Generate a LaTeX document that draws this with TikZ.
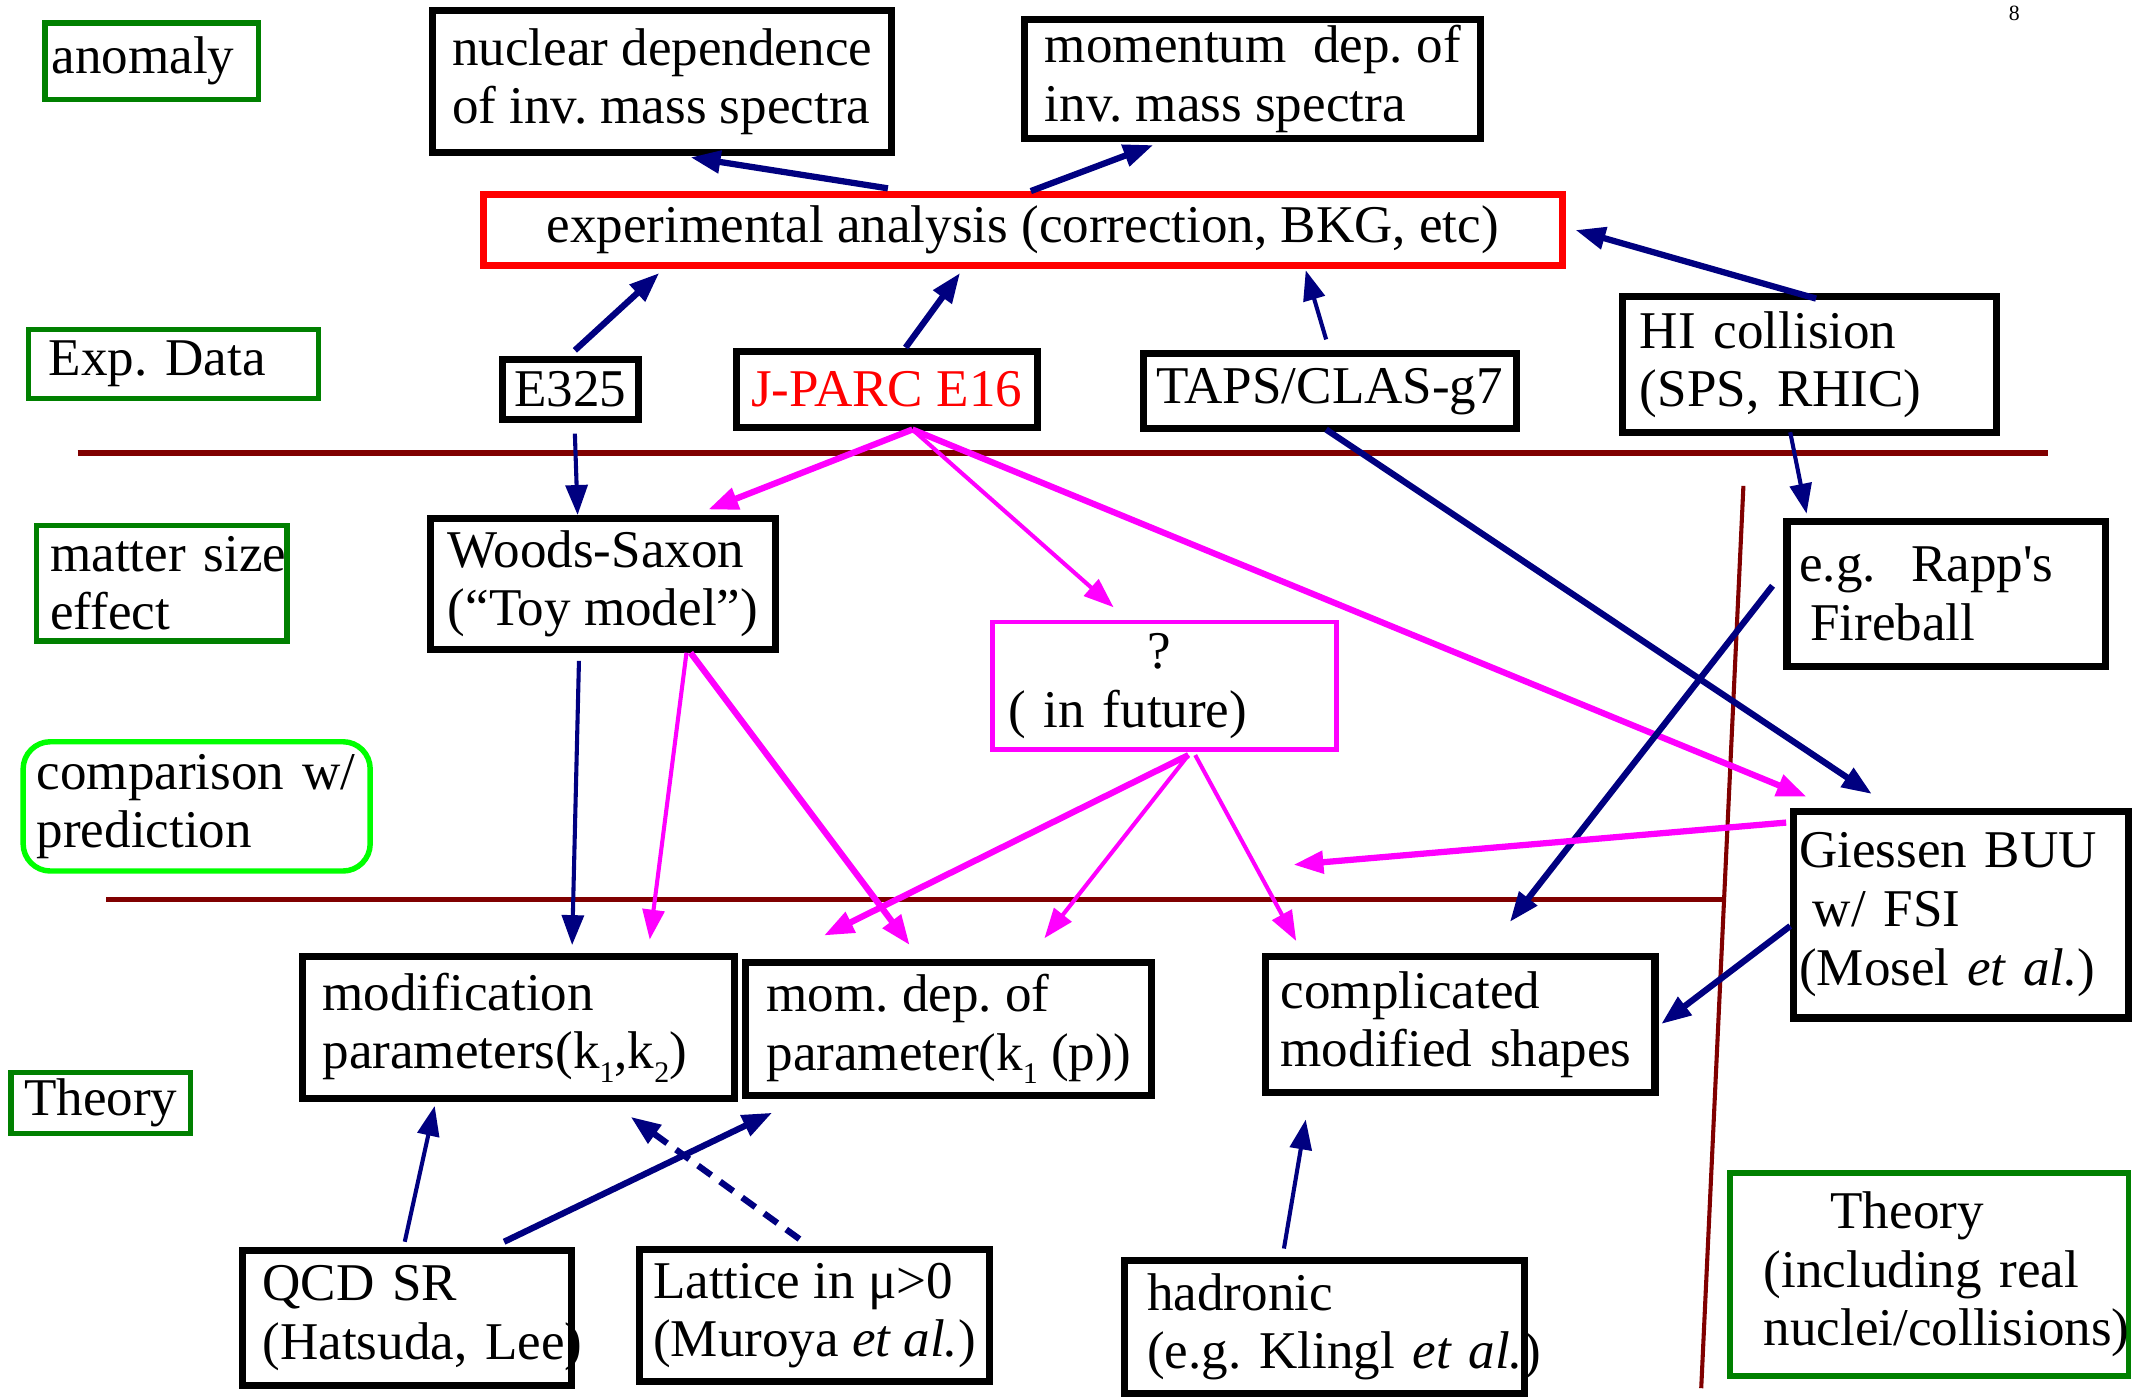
\documentclass[tikz,border=0pt]{standalone}
\usepackage{fontspec}
\setmainfont{Liberation Serif}
\usetikzlibrary{arrows.meta,calc}

\definecolor{navyarrow}{RGB}{0,0,128}
\definecolor{linkpink}{RGB}{255,0,255}
\definecolor{sepred}{RGB}{128,0,0}
\definecolor{labelgreen}{RGB}{0,128,0}
\definecolor{limegreen}{RGB}{0,255,0}

% lowered small index, as in k_1
\newcommand{\lowsub}[1]{\raisebox{-0.55ex}{\fontsize{11}{11}\selectfont #1}}
% straight apostrophe
\newcommand{\sq}{{\addfontfeatures{Ligatures=TeXOff}'}}

\begin{document}
\frenchspacing
\begin{tikzpicture}[x=0.5pt,y=-0.5pt,
    font=\fontsize{19.5}{21.5}\selectfont,
    box/.style={draw, line width=2.6pt, inner xsep=0pt, inner ysep=2pt, align=left},
    tag/.style={draw=labelgreen, line width=2pt, inner xsep=0pt, inner ysep=2pt, align=left},
    nav/.style={draw=navyarrow, line width=2.3pt, -{Triangle[length=11pt,width=8pt]}},
    navthin/.style={nav, line width=1.5pt},
    pink/.style={draw=linkpink, line width=2.3pt, -{Triangle[length=11pt,width=8pt]}},
    pinkthin/.style={pink, line width=1.5pt},
    sep/.style={draw=sepred, line width=2pt}]
    \useasboundingbox (0,0) rectangle (1568,1027);

    % Separators
    \draw[sep] (57,333) -- (1505,333);
    \draw[sep] (78,661) -- (1265,661);
    \draw[sep, line width=1.5pt] (1281,357) -- (1250,1020);

    % Row labels (green)
    \node[tag, minimum width=78.5pt, minimum height=28pt, text width=73.5pt] (anomaly) at (111.5,45) {anomaly};
    \node[tag, minimum width=106.5pt, minimum height=25.5pt, text width=91.5pt] (expdata) at (127.5,267.5) {Exp. Data};
    \node[tag, minimum width=92pt, minimum height=42.5pt, text width=82pt] (matter) at (119,428.5) {\mbox{matter size}\\effect};
    \node[tag, draw=limegreen, rounded corners=10pt, minimum width=127.5pt, minimum height=47.5pt, text width=117.5pt] (comparison) at (144.5,592.5) {comparison w/\\prediction};
    \node[tag, minimum width=66pt, minimum height=22.5pt, align=center] (theoryL) at (74,810.5) {Theory};
    \node[tag, minimum width=146.5pt, minimum height=74.5pt, text width=121.5pt] (theoryR) at (1417.5,936.5) {\hspace*{24.5pt}Theory\\\mbox{(including real}\\\mbox{nuclei/collisions)}};

    % Page number
    \node[font=\fontsize{8}{8}\selectfont] (pagenum) at (1480,10) {8};

    % Anomaly row
    \node[box, minimum width=168.5pt, minimum height=52pt] (nucdep) at (486.5,60) {nuclear dependence\\of inv. mass spectra};
    \node[box, minimum width=167.5pt, minimum height=44pt] (momdep) at (920.5,58) {momentum\ \ dep. of\\inv. mass spectra};
    \node[box, draw=red, minimum width=396.5pt, minimum height=26pt, align=center] (expana) at (751.5,169) {experimental analysis (correction, BKG, etc)};

    % Experiments
    \node[box, minimum width=50pt, minimum height=22pt, align=center] (e325) at (419,286) {E325};
    \node[box, minimum width=110.5pt, minimum height=28pt, align=center, text=red] (jparc) at (651.5,286) {J-PARC E16};
    \node[box, minimum width=137pt, minimum height=27.5pt, align=center] (taps) at (977,287.5) {TAPS/CLAS-g7};
    \node[box, minimum width=137.5pt, minimum height=50pt, text width=124.5pt] (hi) at (1329.5,268) {HI collision\\(SPS, RHIC)};

    % Matter size / prediction
    \node[box, minimum width=127pt, minimum height=48pt] (woods) at (443,429) {Woods-Saxon\\(``Toy model'')};
    \node[box, draw=linkpink, line width=1.8pt, minimum width=126.5pt, minimum height=47pt, text width=114.5pt] (future) at (855.5,504) {\hspace*{51pt}?\\( in future)};
    \node[box, minimum width=117pt, minimum height=53.5pt, text width=108pt] (rapp) at (1430,436.5) {e.g.\ \ Rapp\sq s\\\hspace*{4pt}Fireball};
    \node[box, minimum width=123pt, minimum height=76pt, text width=119pt] (giessen) at (1441,672) {Giessen BUU\\\hspace*{5pt}w/ FSI\\(Mosel \textit{et al.})};

    % Theory row
    \node[box, minimum width=159pt, minimum height=52pt, text width=144pt] (modpar) at (381,755) {modification\\parameters(k\lowsub{1},k\lowsub{2})};
    \node[box, minimum width=149pt, minimum height=49pt] (mompar) at (697,756) {mom. dep. of\\parameter(k\lowsub{1} (p))};
    \node[box, minimum width=143pt, minimum height=50pt, text width=132pt] (compl) at (1073,753) {complicated\\modified shapes};
    \node[box, minimum width=121pt, minimum height=49.5pt, text width=106pt] (qcd) at (299,968.5) {QCD SR\\\mbox{(Hatsuda, Lee)}};
    \node[box, minimum width=128.5pt, minimum height=48.5pt] (lattice) at (598.5,966.5) {Lattice in μ>0\\(Muroya \textit{et al.})};
    \node[box, minimum width=147pt, minimum height=49pt, text width=130pt] (hadr) at (973,975) {hadronic\\\mbox{(e.g. Klingl \textit{et al.})}};

    % Analysis -> spectra
    \draw[nav] ($(expana.north west)+(300,-2)$) -- ($(nucdep.south west)+(192,1)$);
    \draw[nav] ($(expana.north west)+(405,0)$) -- ($(momdep.south west)+(97,2)$);

    % Data -> analysis
    \draw[nav] ($(e325.north west)+(56,-4)$) -- ($(expana.south west)+(132,3)$);
    \draw[nav] ($(jparc.north west)+(127,0)$) -- ($(expana.south west)+(353,3)$);
    \draw[navthin] ($(taps.north west)+(137,-8)$) -- ($(expana.south west)+(607,1)$);
    \draw[nav] ($(hi.north west)+(145,4)$) -- ($(expana.east)+(7,0)$);

    % Data -> models
    \draw[navthin] ($(e325.south west)+(56,8)$) -- ($(woods.north west)+(111,0)$);
    \draw[pink] ($(jparc.south west)+(132,-1)$) -- ($(woods.north west)+(207,-4)$);
    \draw[pinkthin] ($(jparc.south west)+(132,-1)$) -- ($(future.north west)+(91,-9)$);
    \draw[pink] ($(jparc.south west)+(132,-1)$) -- ($(giessen.north west)+(12,-8)$);
    \draw[nav] ($(taps.south west)+(137,-2)$) -- ($(giessen.north west)+(60,-10)$);
    \draw[navthin] ($(hi.south west)+(126,-3)$) -- ($(rapp.north west)+(17,-3)$);

    % Models -> theory
    \draw[navthin] ($(woods.south west)+(112,6)$) -- ($(modpar.north west)+(201,-6)$);
    \draw[pinkthin] ($(woods.south west)+(191,0)$) -- ($(modpar.north west)+(258,-10)$);
    \draw[pink] ($(woods.south west)+(194,0)$) -- ($(mompar.north west)+(123,-10)$);
    \draw[pink] ($(future.south west)+(146,2)$) -- ($(mompar.north west)+(60,-17)$);
    \draw[pinkthin] ($(future.south west)+(146,2)$) -- ($(mompar.north west)+(222,-15)$);
    \draw[pinkthin] ($(future.south west)+(151,2)$) -- ($(compl.north west)+(25,-9)$);
    \draw[nav] ($(rapp.north west)+(-8,50)$) -- ($(compl.north west)+(182,-23)$);
    \draw[pink] ($(giessen.north west)+(-3,11)$) -- ($(compl.north west)+(23,-65)$);
    \draw[nav] ($(giessen.north west)+(0,87)$) -- ($(compl.north east)+(2,52)$);

    % Calculations -> parameters
    \draw[navthin] ($(qcd.north west)+(122,-4)$) -- ($(modpar.south west)+(100,3)$);
    \draw[nav] ($(qcd.north west)+(195,-4)$) -- ($(mompar.south west)+(22,10)$);
    \draw[nav, dash pattern=on 6pt off 4pt] ($(lattice.north west)+(120,-5)$) -- ($(modpar.south west)+(244,11)$);
    \draw[navthin] ($(hadr.north west)+(120,-6)$) -- ($(compl.south west)+(32,17)$);
\end{tikzpicture}
\end{document}
